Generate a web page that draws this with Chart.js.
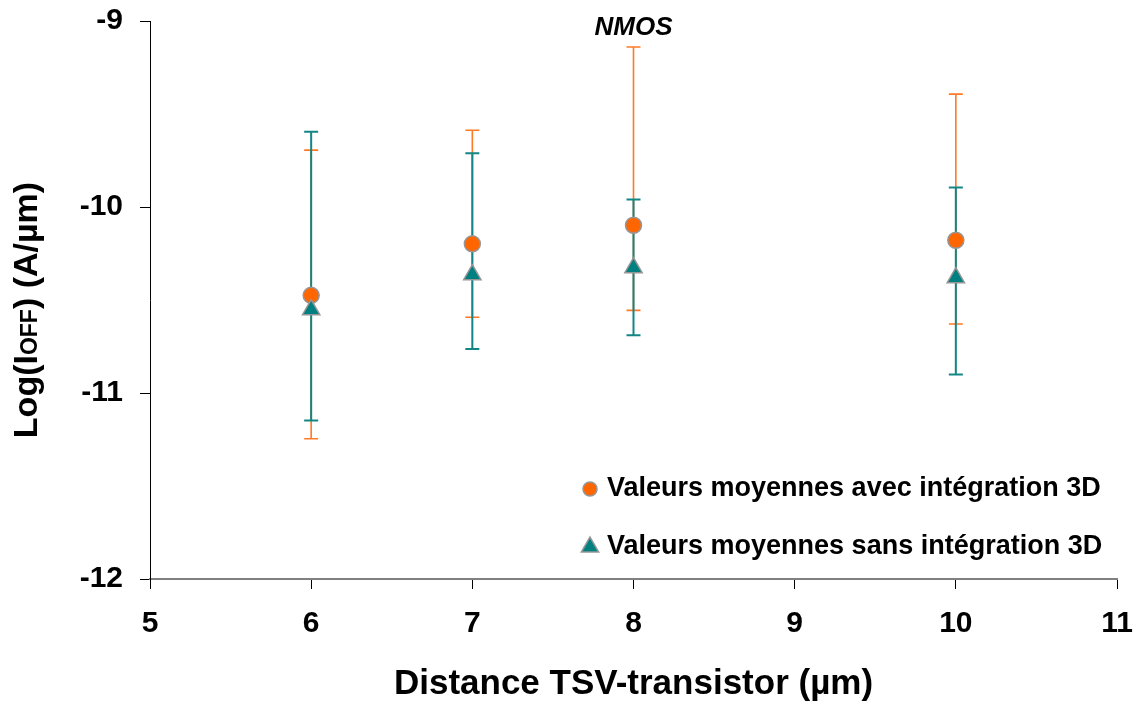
<!DOCTYPE html>
<html>
<head>
<meta charset="utf-8">
<script src="https://cdn.jsdelivr.net/npm/chart.js@4.4.1/dist/chart.umd.min.js"></script>
<style>
  html, body { margin: 0; padding: 0; background: #fff; }
  canvas { display: block; }
</style>
</head>
<body>
<canvas id="ioffChart" width="1139" height="705"></canvas>
<script>
// ============================================================
// DATA
// ============================================================
const distances = [6, 7, 8, 10];

// with 3D integration (orange circles)
const with3dMean = [-10.475, -10.198, -10.098, -10.179];
const with3dHigh = [-9.694, -9.587, -9.140, -9.393];
const with3dLow  = [-11.246, -10.593, -10.556, -10.629];

// without 3D integration (teal triangles)
const without3dMean = [-10.552, -10.364, -10.326, -10.380];
const without3dHigh = [-9.595, -9.711, -9.960, -9.895];
const without3dLow  = [-11.148, -10.763, -10.690, -10.900];

const xTicks = [5, 6, 7, 8, 9, 10, 11];
const yTicks = [-12, -11, -10, -9];

const legendLabels = [
  'Valeurs moyennes avec intégration 3D',
  'Valeurs moyennes sans intégration 3D'
];

const COLORS = {
  orange: '#FF6600',
  orangeBar: '#FF7A26',
  teal: '#008080',
  tealBar: '#138585',
  marker: '#969696',
  axisX: '#808080'
};

const FONT = '"Liberation Sans", Arial, sans-serif';

// ============================================================
// PLUGINS
// ============================================================
// vertical error bars, drawn under the markers
const errorBars = {
  id: 'errorBars',
  beforeDatasetsDraw(chart) {
    const { ctx, scales: { x, y } } = chart;
    const series = [
      { low: with3dLow, high: with3dHigh, color: COLORS.orangeBar, width: 1.6 },
      { low: without3dLow, high: without3dHigh, color: COLORS.tealBar, width: 2 }
    ];
    ctx.save();
    series.forEach(s => {
      ctx.strokeStyle = s.color;
      ctx.lineWidth = s.width;
      distances.forEach((d, i) => {
        const px = x.getPixelForValue(d);
        const top = y.getPixelForValue(s.high[i]);
        const bot = y.getPixelForValue(s.low[i]);
        ctx.beginPath();
        ctx.moveTo(px, top); ctx.lineTo(px, bot);
        ctx.moveTo(px - 7, top); ctx.lineTo(px + 7, top);
        ctx.moveTo(px - 7, bot); ctx.lineTo(px + 7, bot);
        ctx.stroke();
      });
    });
    ctx.restore();
  }
};

// title, y axis title with small "OFF", and the in-plot legend
const decorations = {
  id: 'decorations',
  afterDraw(chart) {
    const { ctx, chartArea } = chart;
    ctx.save();

    // NMOS
    ctx.fillStyle = '#000';
    ctx.font = `italic bold 26px ${FONT}`;
    ctx.textAlign = 'center';
    ctx.textBaseline = 'middle';
    ctx.fillText('NMOS', (chartArea.left + chartArea.right) / 2, 28);

    // y axis title: Log(I_OFF) (A/µm)
    const big = `bold 34px ${FONT}`;
    const small = `bold 23px ${FONT}`;
    const parts = [
      { t: 'Log(I', f: big },
      { t: 'OFF', f: small },
      { t: ') (A/µm)', f: big }
    ];
    let total = 0;
    parts.forEach(p => { ctx.font = p.f; p.w = ctx.measureText(p.t).width; total += p.w; });
    ctx.translate(37, 310);
    ctx.rotate(-Math.PI / 2);
    ctx.textAlign = 'left';
    ctx.textBaseline = 'alphabetic';
    let cx = -total / 2;
    parts.forEach(p => { ctx.font = p.f; ctx.fillText(p.t, cx, 0); cx += p.w; });
    ctx.setTransform(1, 0, 0, 1, 0, 0);

    // legend
    const items = [
      { label: legendLabels[0], style: 'circle', radius: 7, fill: COLORS.orange, y: 489 },
      { label: legendLabels[1], style: 'triangle', radius: 10, fill: COLORS.teal, y: 547 }
    ];
    ctx.font = `bold 27px ${FONT}`;
    ctx.textBaseline = 'middle';
    ctx.textAlign = 'left';
    items.forEach(it => {
      ctx.fillStyle = it.fill;
      ctx.strokeStyle = COLORS.marker;
      ctx.lineWidth = 1.5;
      Chart.helpers.drawPoint(ctx, { pointStyle: it.style, radius: it.radius, rotation: 0, borderWidth: 1.5 }, 590, it.y);
      ctx.fillStyle = '#000';
      ctx.fillText(it.label, 607, it.y);
    });

    ctx.restore();
  }
};

// ============================================================
// CHART
// ============================================================
const toPoints = (xs, ys) => xs.map((d, i) => ({ x: d, y: ys[i] }));

// keep tick labels from pushing the plot area inwards
const noPadding = s => { s.paddingTop = 0; s.paddingBottom = 0; s.paddingLeft = 0; s.paddingRight = 0; };

new Chart(document.getElementById('ioffChart'), {
  type: 'scatter',
  data: {
    datasets: [
      {
        label: legendLabels[0],
        data: toPoints(distances, with3dMean),
        pointStyle: 'circle',
        pointRadius: 8,
        pointHoverRadius: 8,
        backgroundColor: COLORS.orange,
        borderColor: COLORS.marker,
        borderWidth: 1.5,
        order: 1
      },
      {
        label: legendLabels[1],
        data: toPoints(distances, without3dMean),
        pointStyle: 'triangle',
        pointRadius: 10,
        pointHoverRadius: 10,
        backgroundColor: COLORS.teal,
        borderColor: COLORS.marker,
        borderWidth: 1.5,
        order: 0
      }
    ]
  },
  options: {
    responsive: false,
    animation: false,
    events: [],
    layout: { padding: { top: 21, right: 22, left: 0, bottom: 0 } },
    plugins: {
      legend: { display: false },
      tooltip: { enabled: false }
    },
    scales: {
      x: {
        type: 'linear',
        min: xTicks[0],
        max: xTicks[xTicks.length - 1],
        afterBuildTicks: s => { s.ticks = xTicks.map(v => ({ value: v })); },
        afterFit: s => { s.height = 126; noPadding(s); },
        grid: { drawOnChartArea: false, drawTicks: true, tickLength: 10, color: '#000', lineWidth: 1 },
        border: { display: true, color: COLORS.axisX, width: 2 },
        ticks: { color: '#000', padding: 17, font: { family: FONT, size: 30, weight: 'bold' } },
        title: {
          display: true,
          text: 'Distance TSV-transistor (µm)',
          color: '#000',
          padding: { top: 0, bottom: 0 },
          font: { family: FONT, size: 35, weight: 'bold' }
        }
      },
      y: {
        type: 'linear',
        min: yTicks[0],
        max: yTicks[yTicks.length - 1],
        afterBuildTicks: s => { s.ticks = yTicks.map(v => ({ value: v })); },
        afterFit: s => { s.width = 150; noPadding(s); },
        grid: { drawOnChartArea: false, drawTicks: true, tickLength: 10, color: '#000', lineWidth: 1 },
        border: { display: true, color: '#000', width: 1 },
        ticks: { color: '#000', padding: 17, font: { family: FONT, size: 30, weight: 'bold' } }
      }
    }
  },
  plugins: [errorBars, decorations]
});
</script>
</body>
</html>
